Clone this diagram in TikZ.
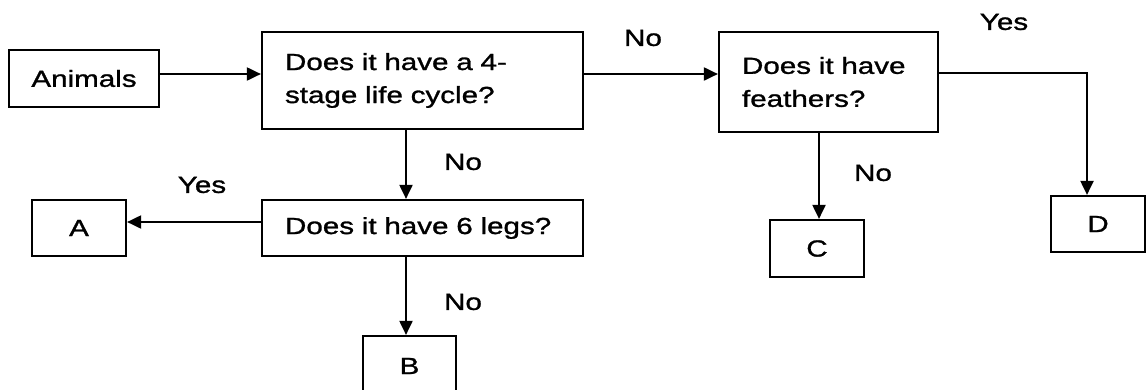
\documentclass[tikz,border=0pt]{standalone}
\usepackage{fontspec}
\setmainfont{Liberation Sans}[FakeStretch=1.27,FakeBold=1.2]
\usetikzlibrary{arrows.meta}
\newcommand\dfont{\fontsize{23.3}{33}\selectfont}
\begin{document}
\begin{tikzpicture}[x=1pt, y=-1pt,
  box/.style={draw, line width=2.2pt, inner sep=0pt, font=\dfont},
  qbox/.style={box, align=left, inner xsep=23pt},
  arr/.style={line width=2pt, -{Triangle[length=14pt,width=13pt]}},
  lbl/.style={font=\dfont, inner sep=0pt}]
\useasboundingbox (0,0) rectangle (1147,389);
\fill[white] (0,0) rectangle (1147,389);
% boxes
\node[box, minimum width=150pt, minimum height=57pt] (anim) at (84,78.5) {Animals};
\node[qbox, text width=275pt, minimum height=97pt] (q1) at (422.5,80.5) {Does it have a 4-\\stage life cycle?};
\node[qbox, text width=173pt, minimum height=100pt] (q2) at (828.5,82) {Does it have\\feathers?};
\node[qbox, text width=275pt, minimum height=56pt] (q3) at (422.5,228) {Does it have 6 legs?};
\node[box, minimum width=94pt, minimum height=56pt] (A) at (79,228) {A};
\node[box, minimum width=93pt, minimum height=60pt] (B) at (409.5,366) {B};
\node[box, minimum width=94pt, minimum height=57pt] (C) at (817,248.5) {C};
\node[box, minimum width=94pt, minimum height=56pt] (D) at (1098,224) {D};
% helper coordinates
\coordinate (r1) at (0,74);
\coordinate (r2) at (0,73);
\coordinate (r3) at (0,222);
\coordinate (dx) at (1087,0);
\coordinate (cx) at (819,0);
\coordinate (bx) at (406,0);
% connectors
\draw[arr] (anim.east |- r1) -- (q1.west |- r1);
\draw[arr] (q1.east |- r1) -- (q2.west |- r1);
\draw[arr] (q2.east |- r2) -| (dx |- D.north);
\draw[arr] (cx |- q2.south) -- (cx |- C.north);
\draw[arr] (bx |- q1.south) -- (bx |- q3.north);
\draw[arr] (bx |- q3.south) -- (bx |- B.north);
\draw[arr] (q3.west |- r3) -- (A.east |- r3);
% labels
\node[lbl] (l1) at (643,38) {No};
\node[lbl] (l2) at (463,162) {No};
\node[lbl] (l3) at (463,302) {No};
\node[lbl] (l4) at (202,185) {Yes};
\node[lbl] (l5) at (1004,22) {Yes};
\node[lbl] (l6) at (873,173) {No};
\end{tikzpicture}
\end{document}
